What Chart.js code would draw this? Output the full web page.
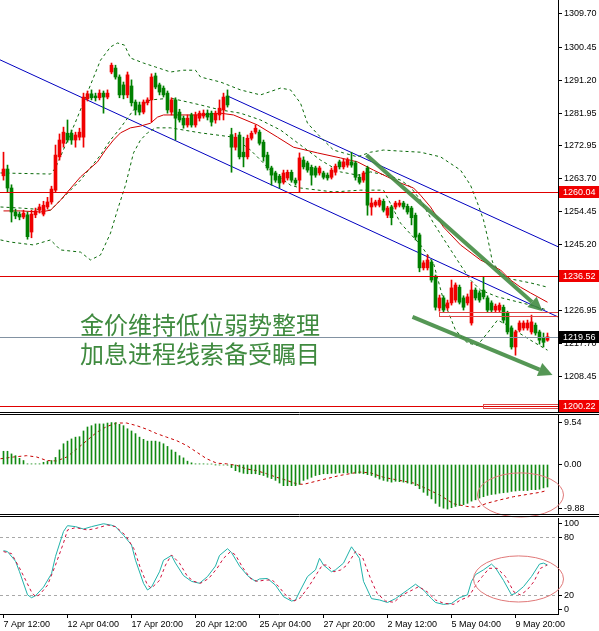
<!DOCTYPE html>
<html>
<head>
<meta charset="utf-8">
<script src="https://cdn.jsdelivr.net/npm/chart.js@4.4.1/dist/chart.umd.min.js"></script>
<style>
  html, body { margin: 0; padding: 0; background: #fff; }
  #wrap { position: relative; width: 599px; height: 631px; overflow: hidden; background: #fff; }
  #wrap canvas { position: absolute; left: 0; top: 0; }
</style>
</head>
<body>
<div id="wrap">
  <canvas id="main" width="599" height="631"></canvas>
  <canvas id="macd" width="599" height="631"></canvas>
  <canvas id="stoch" width="599" height="631"></canvas>
</div>
<script>
/* ================== DATA ================== */
// H4 candles, bar index 0..136
const opens = [1264.5,1266.4,1261.1,1254.4,1253.8,1253.0,1253.6,1248.8,1253.6,1254.9,1253.8,1255.8,1257.2,1260.5,1269.8,1273.6,1276.4,1276.4,1274.5,1275.3,
  1275.3,1286.0,1287.4,1286.8,1286.3,1287.6,1286.5,1293.5,1294.6,1292.1,1289.9,1287.1,1289.6,1285.1,1284.3,1282.3,1284.9,1285.7,1292.4,1289.9,
  1289.0,1287.6,1282.3,1285.7,1282.3,1280.6,1278.7,1281.5,1278.7,1280.6,1281.2,1282.0,1282.0,1280.1,1281.5,1282.9,1286.8,1276.0,1272.5,1275.9,
  1271.1,1269.8,1275.0,1276.7,1276.7,1273.9,1270.3,1266.7,1265.3,1264.4,1262.7,1263.9,1265.5,1263.3,1263.3,1268.9,1268.1,1266.9,1266.7,1265.3,
  1265.3,1264.7,1264.1,1265.5,1268.4,1267.0,1267.5,1268.4,1268.1,1264.1,1263.3,1266.7,1255.8,1256.3,1256.3,1257.4,1253.5,1255.8,1255.8,1256.3,
  1256.9,1256.0,1255.5,1253.5,1248.0,1238.8,1238.8,1240.4,1236.2,1227.6,1230.4,1227.6,1229.0,1229.8,1233.4,1230.4,1229.0,1223.4,1232.6,1231.8,
  1232.6,1230.4,1229.0,1227.0,1227.0,1227.8,1226.2,1222.0,1216.7,1221.4,1222.0,1222.0,1220.9,1222.8,1220.9,1219.2,1218.6];
const highs = [1271.1,1267.5,1262.0,1255.2,1254.4,1254.9,1254.4,1254.9,1255.5,1256.6,1257.4,1258.5,1261.6,1273.1,1276.2,1278.1,1280.1,1277.3,1276.7,1277.8,
  1287.6,1288.2,1288.5,1287.6,1288.5,1288.2,1288.5,1296.0,1295.4,1292.7,1290.7,1293.5,1291.3,1285.7,1285.1,1285.7,1286.3,1293.0,1293.2,1290.4,
  1289.6,1288.2,1286.3,1286.3,1283.1,1281.2,1281.5,1282.0,1282.3,1282.6,1282.9,1282.9,1282.6,1282.6,1285.7,1287.6,1288.5,1277.8,1276.4,1276.7,
  1275.3,1275.9,1277.0,1278.7,1277.3,1274.5,1271.1,1267.2,1265.8,1264.9,1266.1,1266.1,1266.1,1263.9,1270.9,1269.8,1268.6,1267.5,1267.2,1267.2,
  1265.8,1265.3,1266.7,1267.8,1268.9,1269.2,1269.5,1271.1,1268.6,1264.7,1265.8,1267.2,1258.3,1257.7,1258.3,1258.0,1256.0,1256.3,1257.4,1257.7,
  1257.4,1256.6,1256.0,1254.1,1248.5,1240.8,1242.4,1241.0,1236.8,1231.2,1231.0,1229.8,1235.4,1234.6,1234.0,1231.0,1231.5,1234.8,1233.2,1232.4,
  1236.2,1231.0,1229.6,1228.7,1229.0,1228.4,1226.7,1222.6,1221.4,1224.0,1224.0,1224.2,1225.6,1223.4,1221.4,1220.6,1220.6];
const lows = [1263.3,1260.0,1251.6,1252.5,1252.2,1252.5,1246.8,1247.2,1252.8,1254.1,1253.3,1255.2,1256.6,1260.0,1268.9,1272.5,1273.9,1273.3,1272.5,1274.5,
  1272.5,1285.4,1285.7,1285.4,1285.7,1282.0,1286.0,1293.0,1291.5,1286.3,1286.0,1286.3,1284.0,1281.5,1281.5,1281.8,1284.3,1279.5,1288.8,1287.1,
  1286.5,1282.0,1281.5,1274.5,1279.5,1277.8,1278.1,1278.1,1278.1,1279.8,1280.6,1280.1,1278.4,1279.2,1280.1,1280.1,1283.7,1265.5,1271.7,1269.2,
  1267.0,1269.2,1274.5,1276.2,1273.1,1268.6,1266.1,1261.9,1262.7,1261.1,1262.2,1263.3,1262.7,1261.9,1260.0,1266.4,1265.5,1261.9,1264.1,1264.7,
  1263.6,1263.3,1263.6,1264.7,1266.4,1266.4,1266.9,1266.9,1263.3,1262.2,1262.7,1253.5,1253.5,1255.8,1255.8,1254.4,1252.8,1250.8,1255.2,1255.8,
  1255.2,1253.8,1250.8,1246.6,1237.7,1238.2,1238.2,1234.8,1227.0,1226.7,1226.4,1227.0,1228.4,1229.2,1228.7,1227.0,1228.4,1222.8,1229.8,1229.2,
  1230.1,1226.4,1226.4,1226.4,1226.4,1223.4,1220.3,1216.1,1214.4,1220.9,1221.4,1221.4,1220.3,1220.0,1217.5,1216.7,1218.3];
const closes = [1266.4,1261.1,1254.4,1253.3,1253.0,1254.1,1247.5,1253.8,1254.7,1255.8,1256.3,1257.2,1260.8,1270.3,1274.5,1276.7,1274.5,1274.5,1275.9,1276.7,
  1286.5,1287.4,1286.3,1286.3,1287.6,1286.5,1287.6,1295.4,1292.1,1287.1,1287.1,1292.7,1284.9,1282.9,1282.3,1285.1,1285.7,1292.1,1289.3,1287.9,
  1287.1,1282.9,1285.7,1280.6,1280.1,1278.7,1280.6,1278.7,1281.5,1282.0,1282.0,1280.9,1279.5,1282.0,1283.4,1286.5,1284.3,1272.5,1275.3,1269.8,
  1269.8,1275.0,1276.4,1277.8,1273.6,1269.8,1266.7,1264.7,1263.3,1262.5,1265.3,1265.5,1263.3,1262.5,1269.5,1267.0,1266.1,1264.7,1264.7,1266.7,
  1264.1,1263.9,1266.1,1267.2,1267.0,1268.4,1268.9,1267.5,1264.1,1262.7,1265.3,1256.3,1256.9,1257.2,1257.7,1254.9,1255.5,1252.8,1256.9,1256.9,
  1255.8,1254.4,1252.8,1247.4,1238.8,1240.2,1241.0,1235.4,1227.8,1230.4,1227.0,1229.0,1233.2,1234.0,1229.2,1227.8,1230.7,1232.6,1230.4,1229.8,
  1230.7,1227.0,1227.0,1228.1,1228.4,1224.2,1220.9,1216.7,1220.9,1223.4,1223.4,1223.4,1223.7,1220.6,1218.6,1218.0,1219.56];

// [bar index, price]
const maLine = [[0,1254.7],[4.25,1254.7],[9.25,1254.4],[11.75,1254.9],[14.25,1257.7],[16,1260.0],[19.25,1264.2],[23.5,1268.4],[25.5,1271.7],
  [27.5,1274.5],[29.25,1276.5],[31.75,1277.9],[34.25,1278.4],[36.75,1279.2],[38.5,1280.9],[40,1281.5],[49.25,1281.5],[54.25,1282.0],[57.5,1281.5],
  [63.5,1278.7],[68.5,1275.3],[72.5,1272.5],[78.5,1270.9],[84.25,1269.5],[88.5,1268.4],[92.5,1266.1],[96,1264.2],[99.25,1262.5],[102.5,1261.1],
  [104.25,1259.1],[106.75,1255.8],[110,1250.2],[114.25,1245.2],[119.25,1241.0],[124.25,1238.2],[126.75,1235.4],[129.25,1233.4],[131.75,1231.8],[136,1229.2]];
const bbUpper = [[-0.75,1265.3],[11.75,1265.0],[13,1266.7],[15.5,1273.1],[18,1279.5],[21.25,1288.5],[24.25,1296.8],[26.75,1300.5],[28.5,1301.6],
  [30.25,1301.0],[31.75,1297.4],[35,1296.0],[38,1294.9],[41.75,1293.5],[45,1294.0],[48,1294.0],[49.25,1292.1],[54.25,1290.7],[59.25,1288.5],
  [64.25,1287.1],[69.25,1289.0],[71.75,1288.5],[74.25,1284.8],[76,1279.2],[79.25,1275.3],[82.5,1271.7],[85,1270.9],[88.5,1269.8],[91.75,1271.1],
  [95,1271.7],[99.25,1271.4],[104.25,1271.1],[109.25,1269.8],[114.25,1266.1],[116.75,1261.9],[118.5,1256.9],[120,1252.2],[121,1247.4],
  [122.25,1240.4],[124.25,1237.4],[126.75,1235.7],[131.75,1234.6],[136,1233.4]];
const bbMiddle = [[-0.75,1255.8],[4.25,1255.5],[11.75,1254.9],[14.25,1257.7],[19.25,1263.3],[24.25,1270.3],[26.75,1274.5],[29.25,1277.9],
  [32.5,1282.9],[36.75,1285.7],[41.75,1286.2],[49.25,1284.3],[54.25,1282.9],[59.25,1282.0],[64.25,1280.1],[69.25,1277.3],[74.25,1273.1],
  [79.25,1268.9],[84.25,1265.6],[88.5,1264.7],[91.75,1265.6],[96.75,1264.4],[99.25,1263.3],[101.75,1261.4],[104.25,1257.7],[107.5,1251.3],
  [111,1245.2],[114.25,1239.6],[116.75,1235.4],[119.25,1232.6],[123.5,1230.7],[126.75,1229.8],[131.75,1228.4],[136,1227.0]];
const bbLower = [[-0.75,1246.6],[1.75,1246.0],[7.5,1245.2],[11.75,1246.6],[14.25,1243.8],[19.25,1243.2],[21.75,1241.0],[24.25,1242.4],
  [26.75,1248.5],[28.5,1255.0],[30.5,1261.9],[32.5,1270.9],[34.25,1274.5],[36,1276.5],[38,1277.9],[41.75,1277.9],[49.25,1276.5],[57.5,1275.3],
  [61.75,1271.7],[66.75,1266.1],[71.75,1261.9],[74.25,1261.1],[82.5,1260.0],[89.25,1260.5],[95,1260.5],[99.25,1251.3],[104.25,1245.2],
  [107.5,1240.1],[110,1229.8],[113,1221.4],[116,1217.8],[118.5,1217.2],[121,1220.6],[123.5,1224.2],[126,1222.8],[128.5,1220.9],[131.75,1218.6],[136,1215.8]];

// channel trend lines (two anchors each)
const channelLower = [[-0.875,1296.9],[138.625,1225.1]];
const channelUpper = [[56,1286.8],[138.625,1244.7]];

// horizontal levels and last price
const levels = [1260.04, 1236.52, 1200.22];
const lastPrice = 1219.56;
const priceTicks = [1309.70,1300.45,1291.20,1281.95,1272.95,1263.70,1254.45,1245.20,1226.95,1217.70,1208.45];

// MACD
const macdHist = [3.0,3.0,2.4,2.0,1.4,0.9,0.15,0.15,0.15,0.15,0.5,0.75,0.9,1.6,3.3,4.7,5.3,5.8,6.2,6.3,
  7.6,8.5,8.8,9.2,9.2,9.2,9.4,9.5,9.5,9.1,8.8,8.1,7.6,7.0,6.2,5.7,5.3,5.3,5.3,5.1,
  4.7,4.1,3.3,2.8,2.0,1.5,0.76,0.38,0.15,0.15,0.15,0.1,0.1,-0.05,-0.1,-0.1,-0.15,-0.7,-1.4,-1.7,
  -2.0,-2.1,-2.1,-2.1,-2.3,-2.5,-2.9,-3.2,-3.6,-4.2,-4.8,-4.8,-4.8,-4.8,-4.5,-3.6,-3.3,-2.9,-2.5,-2.3,
  -2.1,-2.1,-2.0,-2.0,-1.9,-1.9,-1.9,-2.0,-2.0,-2.0,-2.1,-2.3,-2.5,-2.9,-3.3,-3.6,-3.8,-4.0,-3.8,-3.9,
  -4.0,-4.2,-4.4,-4.8,-5.5,-6.3,-7.0,-7.8,-8.8,-9.5,-9.9,-10.1,-9.8,-9.5,-9.3,-9.1,-8.8,-8.3,-8.0,-7.6,
  -7.3,-7.0,-6.8,-6.7,-6.5,-6.4,-6.3,-6.1,-6.0,-5.9,-5.9,-5.9,-5.7,-5.7,-5.6,-5.3,-5.1];
const macdSignal = [[-0.75,1.3],[2.5,1.7],[5.8,2.0],[8.3,1.7],[10.8,0.9],[13.3,0.8],[15.8,1.7],[18.3,3.5],[20.8,5.4],[23.3,7.3],
  [25.8,8.6],[28.3,9.4],[30.8,9.4],[33.3,8.8],[35.8,8.0],[38.3,7.0],[40.8,6.2],[43.3,5.4],[45.8,4.3],[48.3,2.8],[50.8,1.3],
  [53.3,0.3],[55.8,0.15],[58.3,-0.2],[60.8,-1.0],[63.3,-1.4],[65.8,-2.1],[68.3,-2.9],[70.8,-3.6],[73.3,-4.4],[75,-4.5],[79,-3.6],
  [84,-2.5],[89,-1.7],[91.7,-1.9],[95,-2.9],[99,-3.6],[102.5,-4.2],[105.8,-5.5],[109.2,-7.0],[112.5,-8.9],[115.8,-9.5],[118.3,-9.7],
  [120.8,-8.8],[124.2,-8.0],[127.5,-7.3],[130.8,-6.8],[134.2,-6.3],[135.8,-5.9]];
const macdTicks = [9.54, 0, -9.88];

// Stochastic
const stochMain = [[0,66],[1,65],[3,55],[4,44],[6,20],[7,17],[8,19],[10,28],[12,42],[13,60],[15,86],[16,92],[18,91],[20,88.5],[22,91],
  [25,94],[27,92.5],[28,91],[30,82],[32,72],[33,56],[35,32],[36,25],[37,28],[39,44],[40,56],[42,61],[43,53],[45,40],[47,34],[49,32],
  [51,39],[53,50],[54,61],[56,68],[57,64],[59,50],[61,40],[63,34],[64,36.5],[66,37],[68,30],[70,18],[72,13.5],[73,14.5],[74,23],[76,39],
  [78,46],[79,58],[80,51],[82,44],[83,46],[85,53],[87,70],[89,58],[90,34],[92,16],[94,14.6],[96,12],[98,16],[101,25],[103,31],[105,25],
  [107,16],[108,12],[110,10],[112,11],[114,17],[116,20],[117,34],[118,41],[120,46],[122,52],[123,48],[125,35],[127,20],[128,21.5],
  [130,28.5],[132,39],[134,52],[135,53],[136,51]];
const stochSignal = [[0,65],[2,63],[4,48],[7,23],[8,18],[9,20],[11,30],[13,51],[15,74],[16,87.5],[18,90],[21,87.5],[23,89],[26,92.7],
  [28,91],[30.5,82],[32.6,68],[34.25,47.6],[36,30],[37,27],[39,35],[40.5,51],[42,61.5],[44,53],[46,39],[47.6,34],[49.25,32],[51.3,37],
  [53.4,47.6],[55,58],[56.75,65],[58,61.5],[59.7,49],[61.75,37],[63.4,34],[65.5,35.4],[67.2,35.4],[68.8,28.5],[70.9,18],[72.6,13.5],
  [74.25,17],[76.3,28.5],[78.4,42.4],[79.7,51],[80.9,51],[82.6,44],[84.25,45.8],[85.9,51],[88,65],[89.7,59.7],[91.75,37],[93.4,21.5],
  [95.5,13.5],[97.6,12.2],[99.7,19.8],[102.2,25],[103.8,28.5],[105.9,23.2],[108,14.6],[110.1,11.1],[112.6,10.1],[114.25,14.6],
  [116.3,18],[118.4,32],[119.7,39],[121.4,47.6],[123.4,47.6],[125.5,39],[127.6,23],[129.25,19.8],[130.9,25],[132.6,33.7],[134.25,47.6],[135.9,51]];
const stochLevels = [20, 80];
const stochTicks = [100, 80, 20, 0];

// time axis
const timeTickBars = [0, 16, 32, 48, 64, 80, 96, 112, 128];
const timeLabels = ['7 Apr 12:00','12 Apr 04:00','17 Apr 20:00','20 Apr 12:00','25 Apr 04:00','27 Apr 20:00','2 May 12:00','5 May 04:00','9 May 20:00'];

// annotations
const noteLines = ['金价维持低位弱势整理', '加息进程线索备受瞩目'];
const arrows = [[[90.75,1270.3],[134.75,1226.7]], [[102.25,1225.1],[137.25,1208.9]]];
const boxes = [[108.75,138.6,1226.4,1225.35], [119.75,138.6,1200.9,1199.7]];

/* ================== STYLE ================== */
const RED = '#f00000', GREEN = '#008000';
const FONT = '"Liberation Sans", Arial, sans-serif';
const X_MIN = -0.875, X_MAX = 138.625;

const pts = arr => arr.map(([x, y]) => ({ x, y }));
const idx = opens.map((_, i) => i);
const candleColors = idx.map(i => closes[i] >= opens[i] ? RED : GREEN);

function xHidden() {
  return { type: 'linear', min: X_MIN, max: X_MAX, offset: false, display: false };
}

function yRight(min, max, ticks, fmt, showLabels = true) {
  return {
    type: 'linear', position: 'right', min, max,
    afterBuildTicks: s => { s.ticks = ticks.map(v => ({ value: v })); },
    afterFit: s => { s.width = 41; s.paddingTop = 0; s.paddingBottom = 0; },
    ticks: { display: showLabels, callback: fmt, font: { family: FONT, size: 9 }, color: '#000', padding: 2, autoSkip: false },
    grid: { drawOnChartArea: false, drawTicks: showLabels, tickLength: 4, color: '#000' },
    border: { display: true, color: '#000', width: 1 }
  };
}

function lineSet(data, color, dash, order) {
  return {
    type: 'line', data: pts(data), borderColor: color, borderWidth: 1,
    borderDash: dash || [], pointRadius: 0, tension: 0, fill: false, order: order || 2
  };
}

function hLine(ctx, y, x0, x1) {
  ctx.beginPath(); ctx.moveTo(x0, y); ctx.lineTo(x1, y); ctx.stroke();
}

function drawArrow(ctx, x0, y0, x1, y1) {
  const ang = Math.atan2(y1 - y0, x1 - x0), L = 14, W = 7;
  const bx = x1 - L * Math.cos(ang), by = y1 - L * Math.sin(ang);
  ctx.strokeStyle = ctx.fillStyle = 'rgba(66,140,66,0.9)';
  ctx.lineWidth = 4;
  ctx.beginPath(); ctx.moveTo(x0, y0); ctx.lineTo(bx, by); ctx.stroke();
  ctx.beginPath();
  ctx.moveTo(x1, y1);
  ctx.lineTo(bx + W * Math.sin(ang), by - W * Math.cos(ang));
  ctx.lineTo(bx - W * Math.sin(ang), by + W * Math.cos(ang));
  ctx.closePath(); ctx.fill();
}

function priceTag(ctx, scale, value, bg) {
  const y = Math.round(scale.getPixelForValue(value));
  ctx.fillStyle = bg;
  ctx.fillRect(559, y - 6, 40, 12);
  ctx.fillStyle = '#fff';
  ctx.font = '9px ' + FONT;
  ctx.textAlign = 'left'; ctx.textBaseline = 'middle';
  ctx.fillText(value.toFixed(2), 563, y + 0.5);
}

function ellipse(ctx, xs, ys, ci, cv, ri, rv) {
  const cx = xs.getPixelForValue(ci), cy = ys.getPixelForValue(cv);
  const rx = Math.abs(xs.getPixelForValue(ci + ri) - cx), ry = Math.abs(ys.getPixelForValue(cv + rv) - cy);
  ctx.save();
  ctx.strokeStyle = '#e07878'; ctx.lineWidth = 1;
  ctx.beginPath(); ctx.ellipse(cx, cy, rx, ry, 0, 0, Math.PI * 2); ctx.stroke();
  ctx.restore();
}

/* ================== MAIN PRICE PANEL ================== */
const mainOverlay = {
  id: 'mainOverlay',
  afterDatasetsDraw(chart) {
    const { ctx, chartArea: a, scales: { x, y } } = chart;
    ctx.save();
    ctx.beginPath(); ctx.rect(a.left, a.top, a.right - a.left, a.bottom - a.top); ctx.clip();
    ctx.lineWidth = 1;
    ctx.strokeStyle = '#e00000';
    levels.forEach(v => hLine(ctx, Math.round(y.getPixelForValue(v)) + 0.5, a.left, a.right));
    ctx.strokeStyle = '#8292a2';
    hLine(ctx, Math.round(y.getPixelForValue(lastPrice)) + 0.5, a.left, a.right);

    boxes.forEach(([i0, i1, p0, p1]) => {
      const x0 = Math.round(x.getPixelForValue(i0)) + 0.5, x1 = Math.round(x.getPixelForValue(i1)) + 0.5;
      const y0 = Math.round(y.getPixelForValue(p0)) + 0.5, y1 = Math.round(y.getPixelForValue(p1)) + 0.5;
      ctx.strokeStyle = '#e04848';
      ctx.strokeRect(x0, y0, x1 - x0, y1 - y0);
    });

    arrows.forEach(([s, e]) => drawArrow(ctx,
      x.getPixelForValue(s[0]), y.getPixelForValue(s[1]),
      x.getPixelForValue(e[0]), y.getPixelForValue(e[1])));

    ctx.fillStyle = '#3f8a3f';
    ctx.font = '24px "Noto Sans CJK SC", sans-serif';
    ctx.textAlign = 'left'; ctx.textBaseline = 'middle';
    noteLines.forEach((t, k) => ctx.fillText(t, 80, 325 + k * 29));
    ctx.restore();
  },
  afterDraw(chart) {
    const { ctx, scales: { y } } = chart;
    ctx.save();
    levels.forEach(v => priceTag(ctx, y, v, '#f00000'));
    priceTag(ctx, y, lastPrice, '#000');
    ctx.strokeStyle = '#000'; ctx.lineWidth = 1;
    hLine(ctx, 412.5, 0, 599);
    ctx.restore();
  }
};

new Chart(document.getElementById('main'), {
  type: 'bar',
  data: {
    datasets: [
      { type: 'bar', data: idx.map(i => ({ x: i, y: [opens[i], closes[i]] })), backgroundColor: candleColors,
        barThickness: 3, minBarLength: 1, grouped: false, borderWidth: 0, order: 0 },
      { type: 'bar', data: idx.map(i => ({ x: i, y: [lows[i], highs[i]] })), backgroundColor: candleColors,
        barThickness: 1, grouped: false, borderWidth: 0, order: 1 },
      lineSet(maLine, '#d00000', null, 2),
      lineSet(bbUpper, '#0a6a0a', [3, 3], 3),
      lineSet(bbMiddle, '#0a6a0a', [3, 3], 3),
      lineSet(bbLower, '#0a6a0a', [3, 3], 3),
      lineSet(channelLower, '#0000c0', null, 4),
      lineSet(channelUpper, '#0000c0', null, 4)
    ]
  },
  options: {
    responsive: false, animation: false, events: [],
    layout: { padding: { top: 0, bottom: 631 - 412, left: 0, right: 0 } },
    plugins: { legend: { display: false }, tooltip: { enabled: false } },
    scales: {
      x: xHidden(),
      y: yRight(1313.61 - 412 * 0.2793, 1313.61, priceTicks, v => v.toFixed(2))
    }
  },
  plugins: [mainOverlay]
});

/* ================== MACD PANEL ================== */
const macdOverlay = {
  id: 'macdOverlay',
  afterDraw(chart) {
    const { ctx, scales: { x, y } } = chart;
    ellipse(ctx, x, y, 129.25, -6.9, 10.75, 5.0);
    ctx.save();
    ctx.strokeStyle = '#000'; ctx.lineWidth = 1;
    hLine(ctx, 414.5, 0, 599);
    hLine(ctx, 514.5, 0, 599);
    ctx.restore();
  }
};

new Chart(document.getElementById('macd'), {
  type: 'bar',
  data: {
    datasets: [
      { type: 'bar', data: idx.map(i => ({ x: i, y: macdHist[i] })), backgroundColor: '#108a10',
        barThickness: 1, grouped: false, borderWidth: 0, order: 1 },
      lineSet(macdSignal, '#c80000', [3, 3], 0)
    ]
  },
  options: {
    responsive: false, animation: false, events: [],
    layout: { padding: { top: 415, bottom: 631 - 514, left: 0, right: 0 } },
    plugins: { legend: { display: false }, tooltip: { enabled: false } },
    scales: {
      x: xHidden(),
      y: yRight(-11.22, 11.22, macdTicks, v => v.toFixed(2))
    }
  },
  plugins: [macdOverlay]
});

/* ================== STOCHASTIC PANEL ================== */
const stochOverlay = {
  id: 'stochOverlay',
  beforeDatasetsDraw(chart) {
    const { ctx, chartArea: a, scales: { y } } = chart;
    ctx.save();
    ctx.strokeStyle = '#a8a8a8'; ctx.lineWidth = 1; ctx.setLineDash([3, 3]);
    stochLevels.forEach(v => hLine(ctx, Math.round(y.getPixelForValue(v)) + 0.5, a.left, a.right));
    ctx.restore();
  },
  afterDraw(chart) {
    const { ctx, chartArea: a, scales: { x, y } } = chart;
    ellipse(ctx, x, y, 128.75, 36.5, 11.25, 24);
    ctx.save();
    ctx.strokeStyle = '#000'; ctx.lineWidth = 1;
    hLine(ctx, 516.5, 0, 599);
    // MT4 keeps the end labels inside the window
    ctx.font = '9px ' + FONT; ctx.fillStyle = '#000';
    ctx.textAlign = 'left'; ctx.textBaseline = 'middle';
    stochTicks.forEach(v => {
      const py = Math.round(Math.min(Math.max(y.getPixelForValue(v), a.top + 5), a.bottom - 5));
      hLine(ctx, py + 0.5, a.right, a.right + 4);
      ctx.fillText(String(v), a.right + 6, py + 0.5);
    });
    ctx.restore();
  }
};

new Chart(document.getElementById('stoch'), {
  type: 'line',
  data: {
    datasets: [
      lineSet(stochSignal, '#d0103c', [3, 3], 1),
      lineSet(stochMain, '#20b2aa', null, 0)
    ]
  },
  options: {
    responsive: false, animation: false, events: [],
    layout: { padding: { top: 518, bottom: 0, left: 0, right: 0 } },
    plugins: { legend: { display: false }, tooltip: { enabled: false } },
    scales: {
      x: {
        type: 'linear', min: X_MIN, max: X_MAX, offset: false, position: 'bottom',
        afterBuildTicks: s => { s.ticks = timeTickBars.map(v => ({ value: v })); },
        afterFit: s => { s.height = 17; s.paddingLeft = 0; s.paddingRight = 0; },
        ticks: {
          callback: v => timeLabels[timeTickBars.indexOf(v)],
          align: 'start', maxRotation: 0, autoSkip: false, padding: 1,
          font: { family: FONT, size: 9 }, color: '#000'
        },
        grid: { drawOnChartArea: false, drawTicks: true, tickLength: 4, color: '#000' },
        border: { display: true, color: '#000', width: 1 }
      },
      y: yRight(0, 100, stochTicks, v => String(v), false)
    }
  },
  plugins: [stochOverlay]
});
</script>
</body>
</html>
